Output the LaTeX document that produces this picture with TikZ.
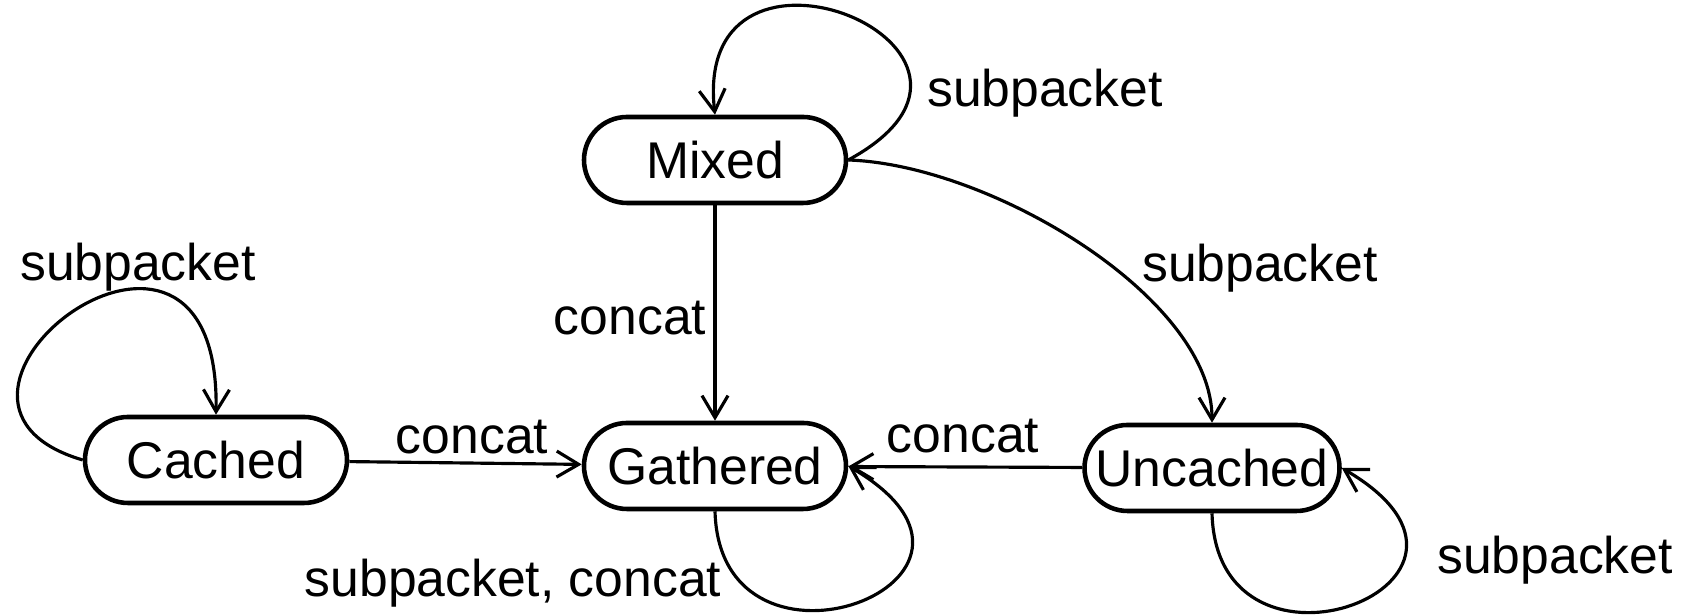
\documentclass[tikz,border=0pt]{standalone}
\usepackage{fontspec}
\setmainfont{Liberation Sans}
\usetikzlibrary{arrows.meta}

\begin{document}
\begin{tikzpicture}[
    state/.style = {draw, line width = 1.3pt, rounded corners = 0.43cm,
        minimum height = 0.86cm, minimum width = 2.62cm, inner xsep = 0pt},
    trans/.style = {-{Straight Barb[length=2.2mm, width=2.6mm]}, line width = 0.9pt},
    lbl/.style = {inner sep = 0pt},
    font = \fontsize{14.7}{17}\selectfont]
    \useasboundingbox (0,0) rectangle (16.92,6.16);

    \node[state] (mixed) at (7.15,4.56) {Mixed};
    \node[state] (cached) at (2.16,1.56) {Cached};
    \node[state] (gathered) at (7.15,1.50) {Gathered};
    \node[state, minimum width = 2.55cm] (uncached) at (12.12,1.48) {Uncached};

    \draw[trans] (mixed.east) .. controls +(2.03,1.10) and +(-0.24,2.13) .. (mixed.north);
    \draw[trans] (mixed.east) .. controls +(1.43,-0.05) and +(0,1.25) .. (uncached.north);
    \draw[trans] (mixed) -- (gathered);
    \draw[trans] (cached.west) .. controls +(-2.05,0.60) and +(0.05,2.77) .. (cached.north);
    \draw[trans] (cached) -- (gathered);
    \draw[trans] (uncached) -- (gathered);
    \draw[trans] (gathered.south) .. controls +(0.05,-1.90) and +(1.95,-1.14) .. (gathered.east);
    \draw[trans] (uncached.south) .. controls +(0.05,-1.90) and +(1.95,-1.14) .. (uncached.east);

    \node[lbl] (lmixloop) at (10.45,5.23) {subpacket};
    \node[lbl] (lmixunc) at (12.60,3.48) {subpacket};
    \node[lbl] (lmixgat) at (6.30,2.98) {concat};
    \node[lbl] (lcacloop) at (1.38,3.49) {subpacket};
    \node[lbl] (lcacgat) at (4.72,1.79) {concat};
    \node[lbl] (luncgat) at (9.63,1.80) {concat};
    \node[lbl] (lgatloop) at (5.13,0.33) {subpacket, concat};
    \node[lbl] (luncloop) at (15.55,0.56) {subpacket};
\end{tikzpicture}
\end{document}
